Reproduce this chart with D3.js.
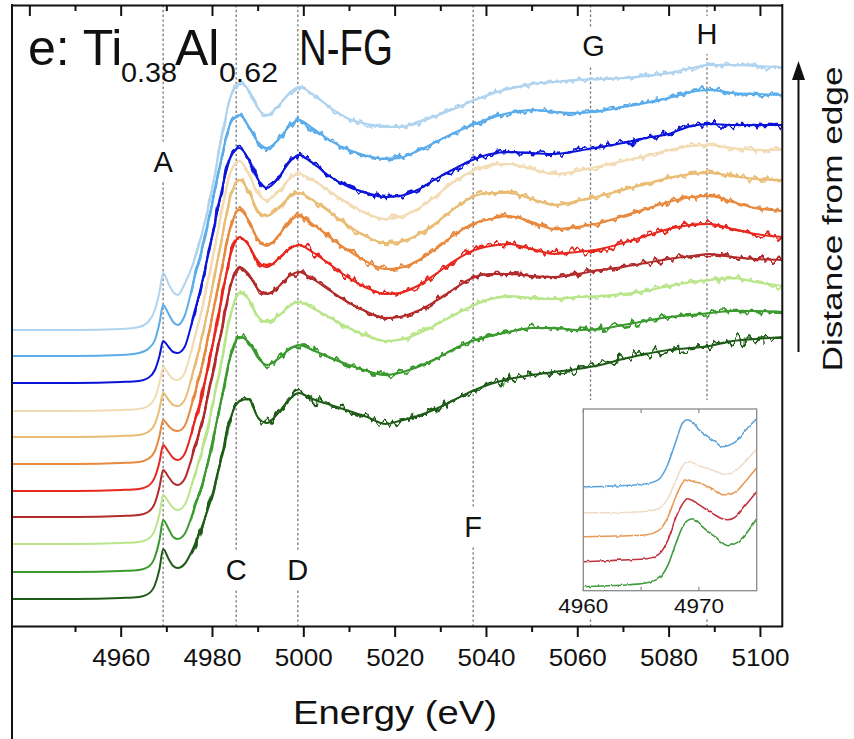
<!DOCTYPE html>
<html>
<head>
<meta charset="utf-8">
<script src="https://cdn.jsdelivr.net/npm/d3@7"></script>
<style>
  html, body { margin: 0; padding: 0; background: #fff; }
  svg { display: block; }
  text { font-family: "Liberation Sans", Arial, Helvetica, sans-serif; fill: #111; }
</style>
</head>
<body>
<svg id="chart" width="854" height="739"></svg>
<script>
// ---------- Ti K-edge XANES, Ti0.38Al0.62N-FG, stacked by distance from edge ----------
// Energy grid (eV) shared by all spectra
const energy = [4936, 4950, 4960, 4964, 4966, 4967.5, 4968.5, 4969.3, 4970.5, 4971.5,
  4972.5, 4974, 4976, 4978, 4980, 4982, 4984, 4986, 4988, 4990,
  4992, 4994.5, 4997, 4999, 5002, 5006, 5010, 5014, 5018, 5021,
  5025, 5029, 5033, 5037, 5041, 5045, 5050, 5055, 5060, 5065,
  5070, 5075, 5080, 5085, 5089, 5094, 5099, 5105];

// Absorption (a.u., before stacking offset), nearest to the edge first
const scan01 = [0,0,1,2,5,14,30, 50,40,33,31,35, 52,75,103,140,180, 198,200,182,176,186, 200,206,200,194,188, 182,175,178,183,190, 199,208,215,220,224, 227,230,234,240,245, 249,251,253,258,260,262];
const scan02 = [0,0,1,2,5,15,32, 52,43,35,33,38, 62,90,128,172,215, 235,230,215,207,213, 223,227,222,214,207, 201,197,199,205,213, 223,231,236,240,244, 244,242,243,247,251, 255,257,259,261,261,260];
const scan03 = [0,0,1,2,5,14,30, 49,42,36,34,39, 66,96,136,180,228, 251,245,228,222,228, 238,242,236,226,216, 208,203,204,210,219, 229,238,245,248,246, 245,247,248,250,253, 258,262,264,266,262,258];
const scan04 = [0,0,1,2,5,14,30, 47,40,34,32,38, 66,98,140,185,230, 250,243,228,223,230, 241,245,238,226,214, 205,199,200,206,216, 228,239,243,243,241, 240,243,247,250,254, 258,261,263,260,258,257];
const scan05 = [0,0,1,2,5,14,29, 46,39,33,31,37, 66,100,143,190,235, 254,246,230,224,232, 242,246,239,226,213, 203,197,198,205,217, 230,240,245,247,242, 237,239,242,248,255, 262,266,267,262,257,254];
const scan06 = [0,0,1,2,5,13,28, 44,38,34,33,38, 67,102,146,192,236, 254,244,225,218,228, 243,248,240,226,213, 202,195,196,203,215, 229,240,245,248,242, 235,237,241,248,255, 262,267,268,262,256,253];
const scan07 = [0,0,1,2,5,13,28, 44,37,32,31,37, 68,104,148,195,240, 257,246,227,221,229, 240,244,237,224,211, 200,194,195,202,214, 228,240,244,244,238, 232,236,241,247,253, 259,263,264,261,258,257];
const scan08 = [0,0,1,2,5,13,28, 44,37,32,31,38, 70,106,150,196,238, 250,238,218,211,219, 232,237,231,219,207, 197,192,194,202,215, 229,240,246,247,242, 237,240,245,250,255, 261,265,266,263,261,261];
const scan09 = [0,0,1,2,5,13,27, 42,36,31,30,36, 68,104,146,190,225, 235,224,204,195,205, 221,228,220,206,196, 190,186,187,193,204, 214,223,229,231,230, 229,232,236,240,245, 249,257,259,258,258,258];
const scan10 = [0,0,1,3,7,16,33, 51,42,34,31,40, 75,110,152,196,232, 241,230,214,208,216, 230,236,228,215,206, 200,197,198,205,214, 223,231,238,243,246, 244,243,245,249,253, 258,264,266,263,262,261];
const scan11 = [0,0,1,3,8,20,38, 57,46,38,35,46, 68,100,140,190,232, 247,240,222,215,224, 237,243,236,222,211, 206,203,203,208,214, 221,229,236,241,246, 248,250,251,252,254, 257,262,265,265,264,263];

// Vertical stacking offset of each scan (a.u.)
const offsets = [0, 27, 55, 82, 108, 135, 162, 188, 216, 243, 269];
const colors = ["#1f5c17", "#3a9a2e", "#b9e68a", "#b22a2a", "#e8281f", "#e8893e",
                "#e9bd75", "#f3dcb5", "#0a14d8", "#5aacea", "#b0d4f0"];
// Scatter of each scan (px of vertical noise texture)
const noiseLevel = [20, 14, 12, 13, 14, 12, 12, 12, 15, 12, 11];
const scans = [scan01, scan02, scan03, scan04, scan05, scan06, scan07, scan08, scan09, scan10, scan11];

// Marked spectral features
const featureNames = ["A", "C", "D", "F", "G", "H"];
const featureEnergies = [4969.3, 4985.3, 4998.8, 5037.2, 5062.9, 5088.4];

// Axis ticks
const majorTicks = [4960, 4980, 5000, 5020, 5040, 5060, 5080, 5100];
const minorTicks = [4950, 4970, 4990, 5010, 5030, 5050, 5070, 5090];
const topMajorTicks = [4940, 4960, 4980, 5000, 5020, 5040, 5060, 5080, 5100];

// Inset: pre-edge region of five selected scans
const insetEnergy = [4960, 4962, 4964, 4965.5, 4966.5, 4967.3, 4968, 4968.6, 4969, 4969.5,
  4970, 4970.8, 4971.5, 4972, 4972.5, 4973.3, 4974, 4975];
const insetScanA = [0,1,2,4,8,21,43,60,66,68,63,55,49,44,41,44,52,68];
const insetScanB = [0,1,2,3,7,21,44,58,63,61,57,51,46,43,42,46,56,70];
const insetScanC = [0,0.5,1,2,6,19,40,54,57,55,54,50,46,42,42,46,55,69];
const insetScanD = [0,0,0.5,1.5,4,14,32,47,51,50,47,44,41,39,39,43,51,64];
const insetScanE = [0,0.5,1.5,3,7,22,45,64,67,64,57,50,44,40,41,46,56,68];
const insetOffsets = [0, 25, 50, 74, 100];
const insetColors = ["#3f9a3f", "#c0323c", "#e89a55", "#efdcc8", "#5ba3dc"];
const insetScans = [insetScanA, insetScanB, insetScanC, insetScanD, insetScanE];
const insetTicks = [4960, 4970];
const insetMinor = [4965];

// ---------- layout ----------
const W = 854, H = 739;
const svg = d3.select("#chart");
const defs = svg.append("defs");
const plot = { left: 12, right: 782.3, top: 5, bottom: 626 };

const x = d3.scaleLinear().domain([4936.2, 5104.9]).range([plot.left, plot.right]);
const y = d3.scaleLinear().domain([-27, 594]).range([plot.bottom, plot.top]);

// split point between the clean pre-edge and the noisier post-edge part of each scan
const splitX = x(4975.5);
defs.append("clipPath").attr("id", "plotClip").append("rect")
  .attr("x", plot.left).attr("y", plot.top).attr("width", plot.right - plot.left).attr("height", plot.bottom - plot.top);
defs.append("clipPath").attr("id", "postClip").append("rect")
  .attr("x", splitX).attr("y", plot.top).attr("width", plot.right - splitX).attr("height", plot.bottom - plot.top);

// counting-noise texture (vertical jitter only)
function addNoiseFilter(id, level, seed, freq) {
  const f = defs.append("filter").attr("id", id)
    .attr("filterUnits", "userSpaceOnUse").attr("x", 0).attr("y", 0).attr("width", W).attr("height", H);
  f.append("feTurbulence").attr("type", "fractalNoise").attr("baseFrequency", freq)
    .attr("numOctaves", 2).attr("seed", seed).attr("result", "turb");
  f.append("feColorMatrix").attr("in", "turb").attr("type", "matrix")
    .attr("values", "0 0 0 0 0.5  0 1 0 0 0  0 0 1 0 0  0 0 0 0 1").attr("result", "map");
  f.append("feDisplacementMap").attr("in", "SourceGraphic").attr("in2", "map")
    .attr("scale", level).attr("xChannelSelector", "R").attr("yChannelSelector", "G");
}
noiseLevel.forEach((lvl, i) => addNoiseFilter("noise" + i, lvl, 7 + i * 13, "0.17 0.05"));
addNoiseFilter("insetNoise", 3, 5, "0.3 0.06");

// dotted feature markers
const markers = svg.append("g");
featureEnergies.forEach(e => {
  markers.append("line")
    .attr("x1", x(e)).attr("x2", x(e))
    .attr("y1", plot.top).attr("y2", plot.bottom)
    .attr("stroke", "#777").attr("stroke-width", 1.3)
    .attr("stroke-dasharray", "2.4,2.4");
});

// spectra: smooth trace plus jittered overlay on the post-edge part
const curves = svg.append("g").attr("clip-path", "url(#plotClip)");
scans.forEach((s, i) => {
  const line = d3.line()
    .x((d, k) => x(energy[k]))
    .y(d => y(d + offsets[i]))
    .curve(d3.curveMonotoneX);
  const d = line(s);
  curves.append("path").attr("d", d)
    .attr("fill", "none").attr("stroke", colors[i]).attr("stroke-width", 2)
    .attr("stroke-linejoin", "round");
  curves.append("g").attr("clip-path", "url(#postClip)")
    .append("path").attr("d", d).attr("filter", `url(#noise${i})`)
    .attr("fill", "none").attr("stroke", colors[i]).attr("stroke-width", 2.4)
    .attr("stroke-linejoin", "round");
});

// feature labels (white backing breaks the dotted line)
const labelPos = { A: 172, C: 580, D: 580, F: 537, G: 56, H: 44 };
featureNames.forEach((n, i) => {
  const cx = x(featureEnergies[i]);
  const by = labelPos[n];
  svg.append("rect").attr("x", cx - 13).attr("y", by - 28).attr("width", 26).attr("height", 38)
    .attr("fill", "#fff");
  svg.append("text").attr("x", n === "G" ? cx + 3 : cx).attr("y", by).attr("text-anchor", "middle")
    .attr("font-size", 29).text(n);
});

// frame & axes
const axisBottom = d3.axisBottom(x).tickValues(majorTicks).tickSize(11).tickSizeOuter(0)
  .tickFormat(d3.format("d"));
const gx = svg.append("g").attr("transform", `translate(0,${plot.bottom})`).call(axisBottom);
gx.select(".domain").attr("stroke", "#111").attr("stroke-width", 2);
gx.selectAll(".tick line").attr("stroke", "#111").attr("stroke-width", 2);
gx.selectAll(".tick text").attr("font-size", 23).attr("y", 40).attr("dy", 0)
  .attr("fill", "#111").attr("font-family", "Liberation Sans, Arial, sans-serif")
  .attr("textLength", 58).attr("lengthAdjust", "spacingAndGlyphs");
const gxm = svg.append("g").attr("transform", `translate(0,${plot.bottom})`)
  .call(d3.axisBottom(x).tickValues(minorTicks).tickSize(6).tickFormat(""));
gxm.select(".domain").remove();
gxm.selectAll(".tick line").attr("stroke", "#111").attr("stroke-width", 2);

const gt = svg.append("g").attr("transform", `translate(0,${plot.top})`)
  .call(d3.axisTop(x).tickValues(topMajorTicks).tickSize(-11).tickSizeOuter(0).tickFormat(""));
gt.select(".domain").attr("stroke", "#111").attr("stroke-width", 2);
gt.selectAll(".tick line").attr("stroke", "#111").attr("stroke-width", 2);
const gtm = svg.append("g").attr("transform", `translate(0,${plot.top})`)
  .call(d3.axisTop(x).tickValues(minorTicks).tickSize(-6).tickFormat(""));
gtm.select(".domain").remove();
gtm.selectAll(".tick line").attr("stroke", "#111").attr("stroke-width", 2);

svg.append("line").attr("x1", plot.left).attr("x2", plot.left).attr("y1", plot.top - 1).attr("y2", H)
  .attr("stroke", "#111").attr("stroke-width", 2);
svg.append("line").attr("x1", plot.right).attr("x2", plot.right).attr("y1", plot.top - 1).attr("y2", plot.bottom + 1)
  .attr("stroke", "#111").attr("stroke-width", 2);

// axis title
svg.append("text").attr("x", 395).attr("y", 724).attr("text-anchor", "middle")
  .attr("font-size", 34).attr("textLength", 204).attr("lengthAdjust", "spacingAndGlyphs")
  .text("Energy (eV)");

// panel title
const title = svg.append("g");
title.append("text").attr("x", 28).attr("y", 65).attr("font-size", 50).text("e: Ti");
title.append("text").attr("x", 121).attr("y", 82).attr("font-size", 28)
  .attr("textLength", 56).attr("lengthAdjust", "spacingAndGlyphs").text("0.38");
title.append("text").attr("x", 175).attr("y", 65).attr("font-size", 50).text("Al");
title.append("text").attr("x", 219).attr("y", 82).attr("font-size", 28)
  .attr("textLength", 59).attr("lengthAdjust", "spacingAndGlyphs").text("0.62");
title.append("text").attr("x", 299).attr("y", 65).attr("font-size", 50)
  .attr("textLength", 94).attr("lengthAdjust", "spacingAndGlyphs").text("N-FG");

// distance arrow
svg.append("path").attr("d", "M798.5,352 L798.5,72").attr("stroke", "#111").attr("stroke-width", 2);
svg.append("path").attr("d", "M792,80 L798.5,61 L805,80 Z").attr("fill", "#111");
svg.append("text").attr("transform", "translate(842,219) rotate(-90)")
  .attr("text-anchor", "middle").attr("font-size", 27)
  .attr("textLength", 305).attr("lengthAdjust", "spacingAndGlyphs")
  .text("Distance from edge");

// ---------- inset ----------
const inset = { left: 583.3, right: 756.7, top: 409, bottom: 590.7 };
svg.append("rect").attr("x", 552).attr("y", 400).attr("width", 222).attr("height", 218).attr("fill", "#fff");
const ix = d3.scaleLinear().domain([4960, 4975]).range([inset.left, inset.right]);
const iy = d3.scaleLinear().domain([-4, 177.7]).range([inset.bottom, inset.top]);
const ig = svg.append("g");
const igLines = ig.append("g").attr("filter", "url(#insetNoise)");
insetScans.forEach((s, i) => {
  const line = d3.line().x((d, k) => ix(insetEnergy[k])).y(d => iy(d + insetOffsets[i]))
    .curve(d3.curveMonotoneX);
  igLines.append("path").attr("d", line(s)).attr("fill", "none")
    .attr("stroke", insetColors[i]).attr("stroke-width", 1.6);
});
ig.append("rect").attr("x", inset.left).attr("y", inset.top)
  .attr("width", inset.right - inset.left).attr("height", inset.bottom - inset.top)
  .attr("fill", "none").attr("stroke", "#8a8a8a").attr("stroke-width", 1.3);
insetTicks.concat(insetMinor).forEach(t => {
  ig.append("line").attr("x1", ix(t)).attr("x2", ix(t)).attr("y1", inset.bottom).attr("y2", inset.bottom - 4)
    .attr("stroke", "#8a8a8a").attr("stroke-width", 1.2);
  ig.append("line").attr("x1", ix(t)).attr("x2", ix(t)).attr("y1", inset.top).attr("y2", inset.top + 4)
    .attr("stroke", "#8a8a8a").attr("stroke-width", 1.2);
});
insetTicks.forEach(t => {
  ig.append("text").attr("x", ix(t)).attr("y", 613).attr("text-anchor", "middle")
    .attr("font-size", 20).attr("textLength", 50).attr("lengthAdjust", "spacingAndGlyphs")
    .attr("fill", "#222").text(d3.format("d")(t));
});
</script>
</body>
</html>
